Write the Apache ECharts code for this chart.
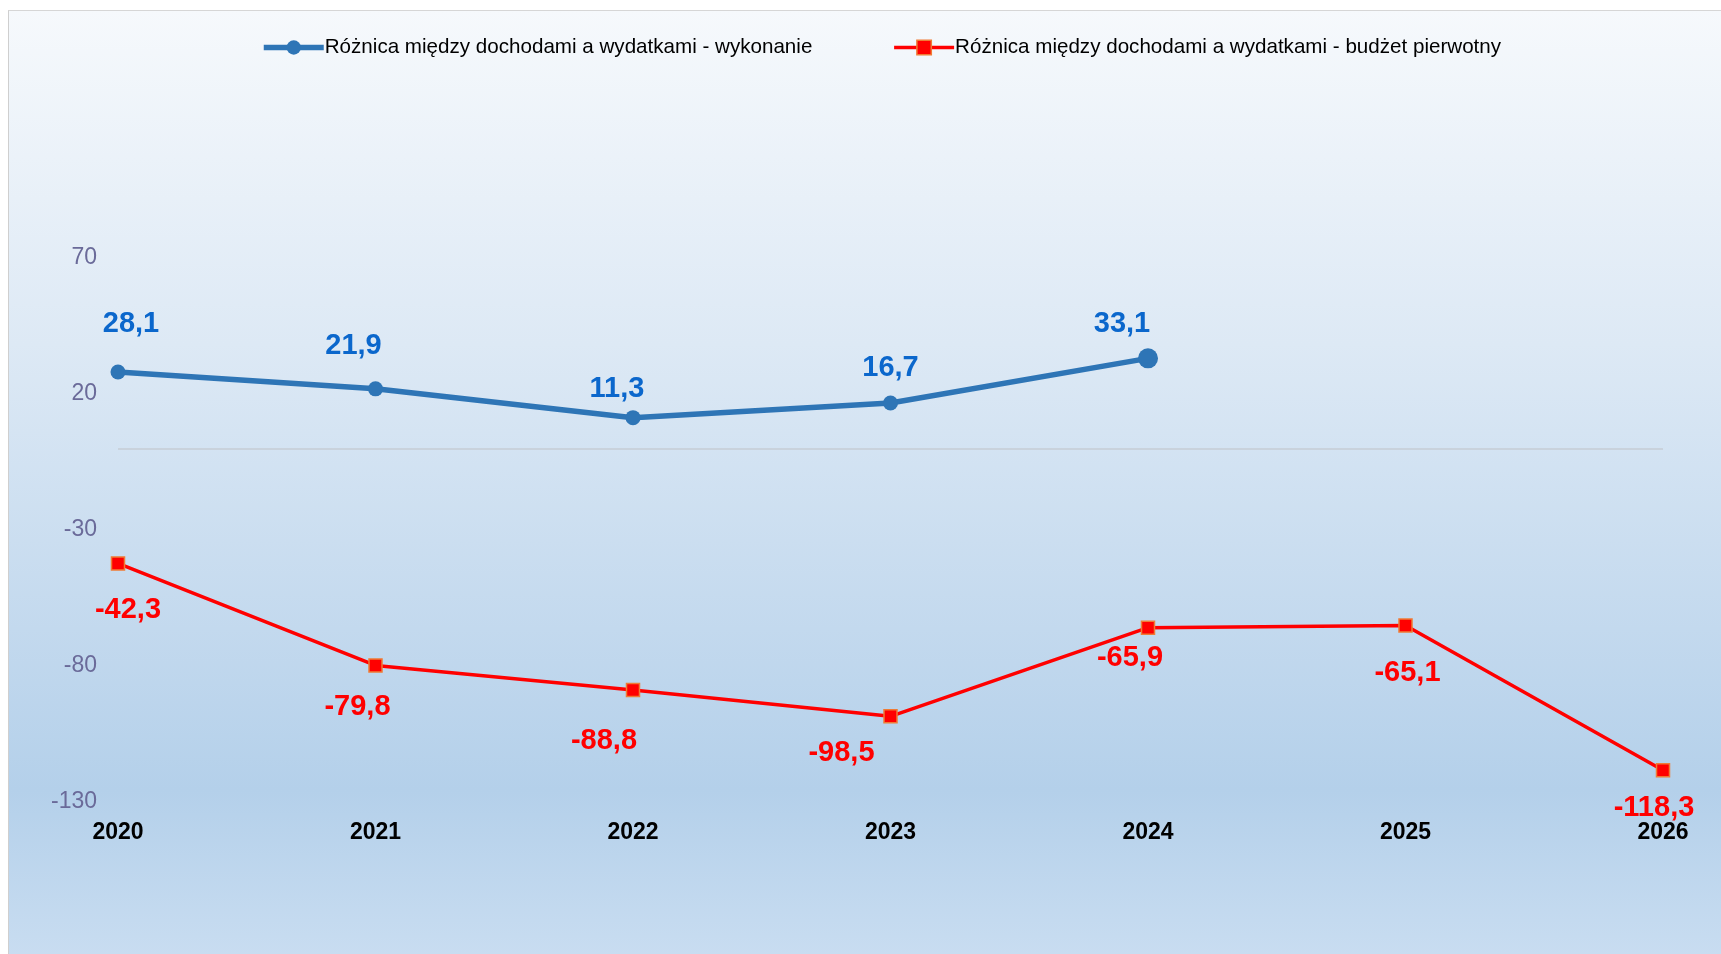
<!DOCTYPE html>
<html>
<head>
<meta charset="utf-8">
<title>Różnica między dochodami a wydatkami</title>
<script src="https://cdn.jsdelivr.net/npm/echarts@6/dist/echarts.min.js"></script>
<style>
  html, body { margin: 0; padding: 0; background: #ffffff; }
  #panel {
    position: absolute; left: 8px; top: 10px; width: 1720px; height: 950px;
    border-left: 1px solid #cfcfcf; border-top: 1px solid #d6d6d6;
    background: linear-gradient(to bottom, #f6f9fc 0%, #dde9f5 35%, #c3d9ee 65%, #b4d0ea 82%, #c9ddf1 100%);
  }
  #chart { position: absolute; left: 0; top: 0; width: 1721px; height: 954px; }
</style>
</head>
<body>
<div id="panel"></div>
<div id="chart"></div>
<script>
const years = ['2020', '2021', '2022', '2023', '2024', '2025', '2026']
const wykonanie = [28.1, 21.9, 11.3, 16.7, 33.1, null, null]
const budzetPierwotny = [-42.3, -79.8, -88.8, -98.5, -65.9, -65.1, -118.3]
const yTicks = { min: -130, max: 70, interval: 50 }

const nameA = 'Różnica między dochodami a wydatkami - wykonanie'
const nameB = 'Różnica między dochodami a wydatkami - budżet pierwotny'

// label nudges (px) so the value labels sit where the original put them
const shiftA = [[13, -6], [-22, -1], [-16, 13], [0, 7], [-26, 10]]
const shiftB = [[10, 5], [-18, 0], [-29, 9], [-49, -5], [-18, -11], [2, 6], [-9, -4]]

const fmt = v => String(v.value).replace('.', ',')

const chart = echarts.init(document.getElementById('chart'))
const option = {
  backgroundColor: 'transparent',
  textStyle: { fontFamily: '"Liberation Sans", Arial, sans-serif' },
  legend: {
    top: 32,
    left: 256,
    itemWidth: 60,
    itemHeight: 18,
    itemGap: 80,
    textStyle: { fontSize: 20.6, color: '#000000', padding: [0, 0, 0, -4] },
    data: [
      { name: nameA, lineStyle: { width: 5.5 } },
      { name: nameB, lineStyle: { width: 3.5 }, itemStyle: { borderWidth: 1.5 } }
    ]
  },
  grid: {
    left: 118,
    right: 58,
    top: 258,
    bottom: 152
  },
  xAxis: {
    type: 'category',
    boundaryGap: false,
    data: years,
    axisLine: { show: false, onZero: false },
    axisTick: { show: false },
    axisLabel: {
      margin: 19,
      fontSize: 23,
      fontWeight: 'bold',
      color: '#000000'
    }
  },
  yAxis: {
    type: 'value',
    min: yTicks.min,
    max: yTicks.max,
    interval: yTicks.interval,
    axisLine: { show: false },
    axisTick: { show: false },
    splitLine: { show: false },
    axisLabel: {
      margin: 21,
      fontSize: 23,
      color: '#6a6a99'
    }
  },
  series: [
    {
      name: nameA,
      type: 'line',
      data: wykonanie.map((v, i) => ({
        value: v,
        symbolSize: i === 4 ? 20 : 15,
        label: shiftA[i] ? { offset: shiftA[i] } : undefined
      })),
      symbol: 'circle',
      lineStyle: { color: '#2e75b6', width: 5.5 },
      itemStyle: { color: '#2e75b6' },
      label: {
        show: true,
        position: 'top',
        distance: 20,
        formatter: fmt,
        fontSize: 29,
        fontWeight: 'bold',
        color: '#0b67cc'
      },
      z: 3
    },
    {
      name: nameB,
      type: 'line',
      data: budzetPierwotny.map((v, i) => ({ value: v, label: { offset: shiftB[i] } })),
      symbol: 'rect',
      symbolSize: 13,
      lineStyle: { color: '#ff0000', width: 3.5 },
      itemStyle: { color: '#ff0000', borderColor: '#f07b35', borderWidth: 1.5 },
      label: {
        show: true,
        position: 'bottom',
        distance: 20,
        formatter: fmt,
        fontSize: 29,
        fontWeight: 'bold',
        color: '#ff0000'
      },
      markLine: {
        silent: true,
        symbol: 'none',
        label: { show: false },
        lineStyle: { color: '#c6ccd4', width: 1.5, type: 'solid' },
        data: [{ yAxis: 0 }]
      },
      z: 2
    }
  ]
}
chart.setOption(option)
</script>
</body>
</html>
